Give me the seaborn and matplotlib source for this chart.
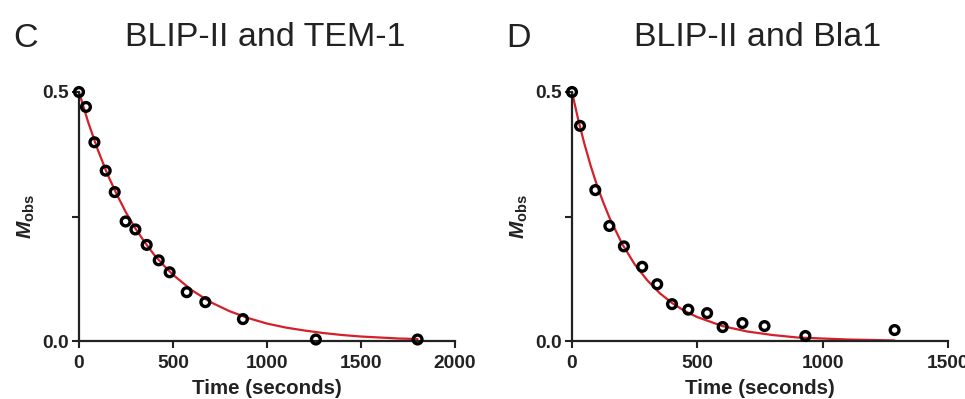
import matplotlib
matplotlib.use("Agg")
import matplotlib.pyplot as plt
import seaborn as sns
import pandas as pd

# ---------------------------------------------------------------------------
# Data
# ---------------------------------------------------------------------------

# Panel C: BLIP-II and TEM-1
tem_time = [0, 37, 82, 142, 190, 248, 300, 360, 424, 482, 573, 672, 872, 1260, 1801]
tem_mobs = [0.500, 0.470, 0.399, 0.342, 0.299, 0.240, 0.224, 0.193, 0.162,
            0.138, 0.098, 0.078, 0.044, 0.003, 0.003]
tem_fit_time = [0, 50, 100, 150, 200, 250, 300, 350, 400, 450, 500, 600, 700,
                800, 900, 1000, 1100, 1200, 1300, 1400, 1500, 1600, 1700, 1801]
tem_fit_mobs = [0.500, 0.438, 0.384, 0.336, 0.295, 0.258, 0.226, 0.198, 0.173,
                0.152, 0.133, 0.102, 0.078, 0.060, 0.046, 0.035, 0.027, 0.021,
                0.016, 0.012, 0.009, 0.007, 0.005, 0.004]

# Panel D: BLIP-II and Bla1
bla_time = [0, 32, 93, 149, 207, 280, 340, 399, 464, 539, 601, 680, 768, 931, 1287]
bla_mobs = [0.500, 0.432, 0.303, 0.231, 0.190, 0.149, 0.114, 0.074, 0.063,
            0.056, 0.028, 0.036, 0.030, 0.010, 0.022]
bla_fit_time = [0, 25, 50, 75, 100, 125, 150, 200, 250, 300, 350, 400, 450,
                500, 600, 700, 800, 900, 1000, 1100, 1200, 1287]
bla_fit_mobs = [0.500, 0.444, 0.395, 0.351, 0.312, 0.278, 0.247, 0.195, 0.154,
                0.122, 0.096, 0.076, 0.060, 0.048, 0.030, 0.019, 0.012, 0.007,
                0.005, 0.003, 0.002, 0.001]

panels = [
    ("C", "BLIP-II and TEM-1", tem_time, tem_mobs, tem_fit_time, tem_fit_mobs,
     [0, 500, 1000, 1500, 2000], 2000),
    ("D", "BLIP-II and Bla1", bla_time, bla_mobs, bla_fit_time, bla_fit_mobs,
     [0, 500, 1000, 1500], 1500),
]

sns.set_style("ticks")
plt.rcParams["font.family"] = ["Liberation Sans", "DejaVu Sans"]
plt.rcParams["mathtext.fontset"] = "custom"
plt.rcParams["mathtext.bf"] = "Liberation Sans:bold"
plt.rcParams["mathtext.bfit"] = "Liberation Sans:bold:italic"

fig = plt.figure(figsize=(9.65, 3.99), dpi=100)

ax_lefts = [79 / 965, 572 / 965]
red = "#d4202a"
ink = "#222222"

for (letter, title, t, m, ft, fm, xticks, xmax), left in zip(panels, ax_lefts):
    ax = fig.add_axes([left, 58 / 399, 376 / 965, 249 / 399])
    pts = pd.DataFrame({"time": t, "mobs": m})
    fit = pd.DataFrame({"time": ft, "mobs": fm})

    sns.lineplot(data=fit, x="time", y="mobs", ax=ax, color=red, lw=1.6,
                 zorder=2, clip_on=False)
    sns.scatterplot(data=pts, x="time", y="mobs", ax=ax, s=40, marker="o",
                    facecolor="none", edgecolor="black", linewidth=2.4,
                    zorder=3, clip_on=False)

    ax.set_xlim(0, xmax)
    ax.set_ylim(0, 0.5)
    ax.set_xticks(xticks)
    ax.set_xticklabels([str(v) for v in xticks])
    ax.set_yticks([0, 0.25, 0.5])
    ax.set_yticklabels(["0.0", "", "0.5"])
    ax.tick_params(width=1.5, length=5, labelsize=13.8, color=ink,
                   labelcolor=ink, pad=2)
    ax.tick_params(axis="x", pad=5)
    for lab in ax.get_xticklabels() + ax.get_yticklabels():
        lab.set_fontweight("bold")
    for side in ("left", "bottom"):
        ax.spines[side].set_linewidth(1.6)
        ax.spines[side].set_color(ink)
    sns.despine(ax=ax)

    ax.set_xlabel("Time (seconds)", fontsize=14.8, fontweight="bold",
                  color=ink, labelpad=5)
    ax.set_ylabel(r"$\mathbfit{M}_{\mathbf{obs}}$", fontsize=15,
                  color=ink, labelpad=4)

    x0 = left * 965
    fig.text((x0 - 66) / 965, 1 - 47 / 399, letter, fontsize=24.5,
             color=ink, va="baseline", ha="left")
    fig.text((x0 + 186) / 965, 1 - 46 / 399, title, fontsize=24.5,
             color=ink, va="baseline", ha="center")

fig.savefig("out.png", dpi=100)
